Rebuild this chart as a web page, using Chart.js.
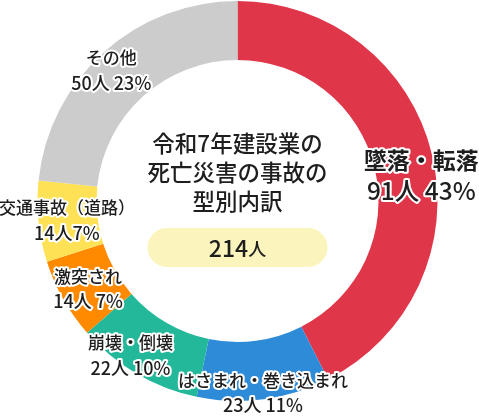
<!DOCTYPE html>
<html lang="ja">
<head>
<meta charset="utf-8">
<script src="https://cdn.jsdelivr.net/npm/chart.js"></script>
<style>
  body { margin: 0; background: #fff; }
  canvas { display: block; }
</style>
</head>
<body>
<canvas id="myChart" width="479" height="419"></canvas>
<script>
// data
const categories = ['墜落・転落', 'はさまれ・巻き込まれ', '崩壊・倒壊', '激突され', '交通事故（道路）', 'その他'];
const counts = [91, 23, 22, 14, 14, 50];
const valueLabels = ['91人 43%', '23人 11%', '22人 10%', '14人 7%', '14人7%', '50人 23%'];
const colors = ['#e0364a', '#2e8bd8', '#23b89a', '#ff8a00', '#ffe155', '#cccccc'];
const totalLabel = '214';
const title = ['令和7年建設業の', '死亡災害の事故の', '型別内訳'];

// label nudges from each arc's middle point
const labelOffsets = [[18, 14], [3, 23], [-21, 7], [-1, 4], [-1, 2], [-12, -4]];

const FONT = '"Noto Sans CJK JP", "Noto Sans", sans-serif';

function outlined(ctx, text, x, y) {
    ctx.lineWidth = 4;
    ctx.strokeStyle = '#fff';
    ctx.lineJoin = 'round';
    ctx.strokeText(text, x, y);
    ctx.fillText(text, x, y);
}

const labelPlugin = {
    id: 'labels',
    afterDraw(chart) {
        const ctx = chart.ctx;
        const arcs = chart.getDatasetMeta(0).data;
        const cx = (chart.chartArea.left + chart.chartArea.right) / 2;
        const cy = (chart.chartArea.top + chart.chartArea.bottom) / 2;
        ctx.save();
        ctx.textAlign = 'center';
        ctx.textBaseline = 'middle';
        ctx.fillStyle = '#1e1e1e';

        // centre title
        ctx.font = '500 22.5px ' + FONT;
        title.forEach(function (line, i) {
            ctx.fillText(line, cx, cy - 58 + i * 29);
        });

        // total pill
        const pw = 180, ph = 39, py = cy + 27;
        ctx.fillStyle = '#fbf5bd';
        ctx.beginPath();
        ctx.roundRect(cx - pw / 2, py, pw, ph, ph / 2);
        ctx.fill();
        ctx.fillStyle = '#1e1e1e';
        ctx.font = '500 23px ' + FONT;
        const w1 = ctx.measureText(totalLabel).width;
        ctx.font = '500 18px ' + FONT;
        const w2 = ctx.measureText('人').width;
        const start = cx - (w1 + w2) / 2;
        ctx.textAlign = 'left';
        ctx.font = '500 23px ' + FONT;
        ctx.fillText(totalLabel, start, py + ph / 2 + 1);
        ctx.font = '500 18px ' + FONT;
        ctx.fillText('人', start + w1, py + ph / 2 + 2);
        ctx.textAlign = 'center';

        // slice labels
        arcs.forEach(function (arc, i) {
            const p = arc.tooltipPosition();
            const x = p.x + labelOffsets[i][0];
            const y = p.y + labelOffsets[i][1];
            if (i === 0) {
                ctx.font = 'bold 23px ' + FONT;
                outlined(ctx, categories[i], x, y - 15);
                ctx.font = '500 24.5px ' + FONT;
                outlined(ctx, valueLabels[i], x, y + 15);
            } else {
                ctx.font = '500 17px ' + FONT;
                outlined(ctx, categories[i], x, y - 12.5);
                ctx.font = '500 18px ' + FONT;
                outlined(ctx, valueLabels[i], x, y + 12.5);
            }
        });
        ctx.restore();
    }
};

new Chart(document.getElementById('myChart'), {
    type: 'doughnut',
    data: {
        labels: categories,
        datasets: [{
            data: counts,
            backgroundColor: colors,
            borderWidth: 0
        }]
    },
    options: {
        responsive: false,
        animation: false,
        cutout: '70.5%',
        layout: { padding: { left: 37.5, right: 41.5, top: 1, bottom: 18 } },
        plugins: {
            legend: { display: false },
            tooltip: { enabled: false }
        }
    },
    plugins: [labelPlugin]
});
</script>
</body>
</html>
